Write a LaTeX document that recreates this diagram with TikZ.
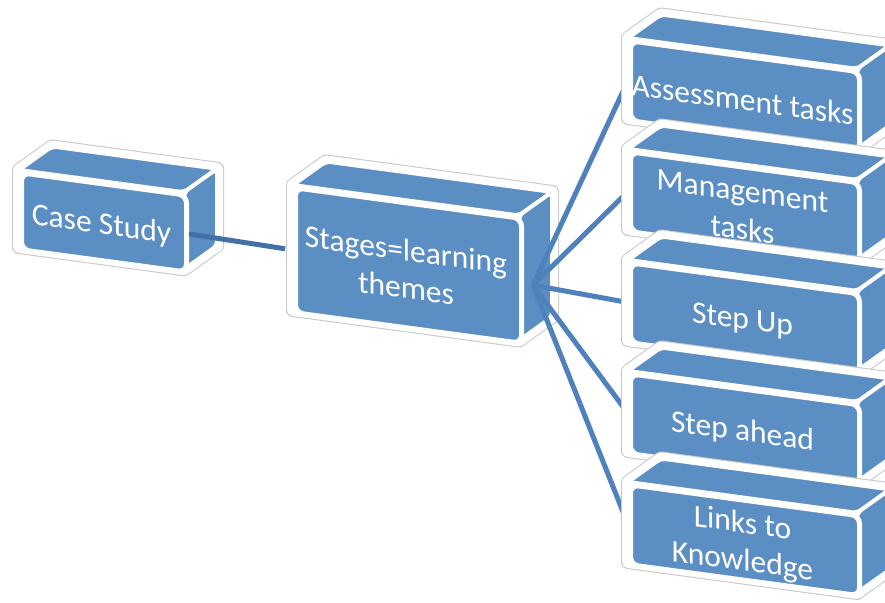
\documentclass[tikz,border=0pt]{standalone}
\usepackage{fontspec}
\setmainfont{Carlito}
\usetikzlibrary{calc}

\definecolor{boxblue}{RGB}{91,143,196}
\definecolor{linkblue}{RGB}{79,129,189}
\definecolor{darklink}{RGB}{66,114,165}

\pgfdeclarelayer{back}
\pgfdeclarelayer{links}
\pgfsetlayers{back,links,main}

% block: #1 name, #2 x, #3 y, #4 width, #5 height, #6 text
\newcommand{\themebox}[6]{%
  \begin{scope}[shift={(#2,#3)}, yslant=-0.135]
    % white rim round the whole block
    \path[halo] (0,#5) -- (0,0) -- (33,-28) -- ({#4+33},-28)
      -- ({#4+33},{#5-28}) -- (#4,#5) -- cycle;
    % top and side faces
    \path[face] (0,0) -- (33,-28) -- ({#4+33},-28) -- (#4,0) -- cycle;
    \path[face] (#4,0) -- ({#4+33},-28) -- ({#4+33},{#5-28}) -- (#4,#5) -- cycle;
    % front face and its text
    \node[front, minimum width=#4pt, minimum height=#5pt] (#1) at (0,0) {};
    \node[boxtext] (#1-text) at ({#4/2},{#5/2+6}) {#6};
  \end{scope}}

\begin{document}
\begin{tikzpicture}[x=1pt, y=-1pt,
  halo/.style={fill=white, draw=white, line width=12, line join=round,
    preaction={draw=black!22, line width=14, line join=round}},
  face/.style={fill=boxblue, draw=white, line width=4, rounded corners=5},
  front/.style={face, anchor=north west, line width=5, rounded corners=8,
    transform shape, inner sep=0pt},
  boxtext/.style={transform shape, text=white, align=center, inner sep=0pt,
    font=\fontsize{31.5}{38}\selectfont},
  link/.style={draw=linkblue, line width=5}]
  \useasboundingbox (0,0) rectangle (885,602);

  % left-hand blocks
  \begin{pgfonlayer}{back}
    \themebox{case}{19}{170}{165}{77}{Case Study}
    \themebox{stages}{293}{185}{226}{125}{Stages=learning\\themes}
  \end{pgfonlayer}

  % right-hand column
  \foreach \name/\ypos/\label in {assess/38/Assessment tasks,
      manage/149/Management\\tasks, stepup/260/Step Up,
      ahead/371/Step ahead, links/482/Links to\\Knowledge}
    \themebox{\name}{628}{\ypos}{229}{80}{\label};

  % connectors
  \begin{pgfonlayer}{links}
    \draw[link, draw=darklink, shorten >=8pt] (case.east) -- (stages.west);
    \coordinate (hub) at ($(stages.east)+(9,4)$);
    \foreach \name in {assess,manage,stepup,ahead,links}
      \draw[link] (hub) -- (\name.west);
  \end{pgfonlayer}
\end{tikzpicture}
\end{document}
